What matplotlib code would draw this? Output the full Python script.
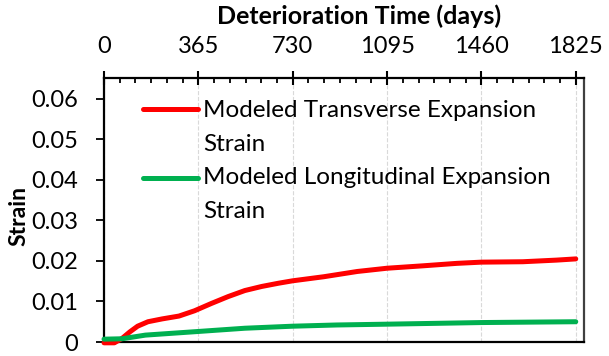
import matplotlib
matplotlib.use("Agg")
import matplotlib.pyplot as plt
from matplotlib.ticker import MultipleLocator

plt.rcParams['font.family'] = ['Lato', 'DejaVu Sans']

# modeled expansion strain vs. deterioration time
red_days = [0, 40, 70, 100, 130, 170, 225, 290, 350, 415, 480, 545, 610, 675, 730,
            850, 980, 1095, 1235, 1365, 1460, 1620, 1750, 1825]
red_strain = [-0.0002, -0.0002, 0.0009, 0.0025, 0.0039, 0.0050, 0.0057, 0.0064,
              0.0077, 0.0095, 0.0112, 0.0127, 0.0137, 0.0145, 0.0151, 0.0161,
              0.0174, 0.0182, 0.0188, 0.0194, 0.0197, 0.0198, 0.0202, 0.0205]

green_days = [0, 70, 160, 365, 545, 730, 900, 1095, 1280, 1460, 1640, 1825]
green_strain = [0.0007, 0.0008, 0.0017, 0.0026, 0.0034, 0.0039, 0.0042, 0.0044,
                0.0046, 0.0048, 0.0049, 0.0050]

x_ticks = [0, 365, 730, 1095, 1460, 1825]
y_ticks = [0, 0.01, 0.02, 0.03, 0.04, 0.05, 0.06]
y_ticklabels = ['0', '0.01', '0.02', '0.03', '0.04', '0.05', '0.06']

labels = ['Modeled Transverse Expansion\nStrain',
          'Modeled Longitudinal Expansion\nStrain']

fig = plt.figure(figsize=(6.09, 3.56), dpi=100)
ax = fig.add_axes([0.1708, 0.0393, 0.7882, 0.7402])

ax.plot(red_days, red_strain, color='#ff0000', lw=3.6, solid_capstyle='round',
        clip_on=False, zorder=3)
ax.plot(green_days, green_strain, color='#00b050', lw=3.6, solid_capstyle='round',
        clip_on=False, zorder=3)

ax.set_xlim(0, 1857)
ax.set_ylim(0, 0.065)

# x axis lives on top
ax.xaxis.tick_top()
ax.set_xticks(x_ticks)
ax.xaxis.set_minor_locator(MultipleLocator(365 / 6))
ax.tick_params(axis='x', which='major', direction='inout', length=9.5, width=1.5,
               pad=11, labelsize=17)
ax.tick_params(axis='x', which='minor', direction='in', length=3.6, width=1.3)
ax.set_yticks(y_ticks)
ax.set_yticklabels(y_ticklabels)
ax.tick_params(axis='y', direction='out', length=5.5, width=1.3, pad=13, labelsize=17)

ax.xaxis.grid(True, color='#d9d9d9', linestyle='--', linewidth=0.8)
ax.set_axisbelow(True)

for side in ['left', 'top', 'bottom']:
    ax.spines[side].set_linewidth(1.6)
    ax.spines[side].set_color('black')
ax.spines['right'].set_linewidth(1.6)
ax.spines['right'].set_color('#404040')

ax.set_xlabel('Deterioration Time (days)', fontsize=18, fontweight='bold')
ax.xaxis.set_label_position('top')
ax.xaxis.set_label_coords(0.531, 1.205)
ax.set_ylabel('Strain', fontsize=16.5, fontweight='bold')
ax.yaxis.set_label_coords(-0.155, 0.478)

# legend drawn by hand so the key sits beside the first text line
for i, (lab, col) in enumerate(zip(labels, ['#ff0000', '#00b050'])):
    y = [0.884, 0.624][i]
    ax.plot([0.081, 0.196], [y, y], color=col, lw=3.6, solid_capstyle='round',
            transform=ax.transAxes)
    # baseline of a multi-line text is the last line's baseline
    ax.text(0.206, [0.724, 0.470][i], lab, transform=ax.transAxes, fontsize=17.5,
            va='baseline', ha='left', linespacing=1.75)

fig.savefig('out.png', dpi=100)
